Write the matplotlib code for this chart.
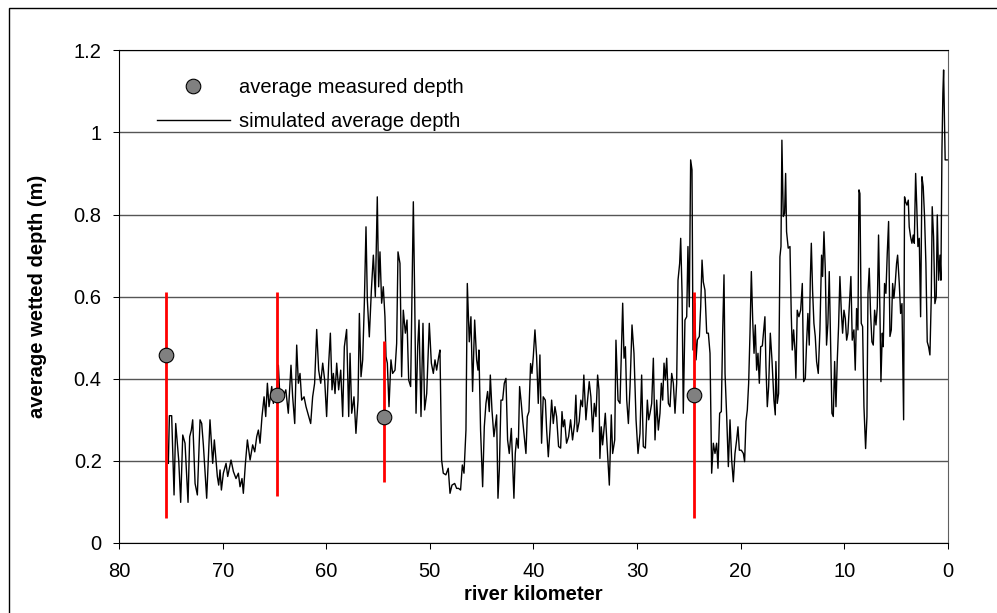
import matplotlib
matplotlib.use("Agg")
import matplotlib.pyplot as plt
from matplotlib.patches import Rectangle

plt.rcParams["font.family"] = ["Liberation Sans", "DejaVu Sans"]

# ── measured depth (mean with min / max range) ─────────────
meas_km = [75.45, 64.75, 54.45, 24.45]
meas_depth = [0.457, 0.361, 0.308, 0.360]
meas_low = [0.060, 0.115, 0.148, 0.060]
meas_high = [0.612, 0.612, 0.493, 0.611]

# ── simulated average depth ────────────────────────────────
sim_km = [
    75.24, 75.14, 74.92, 74.69, 74.53, 74.37, 74.24, 74.05, 73.85, 73.63,
    73.34, 73.18, 73.02, 72.89, 72.66, 72.44, 72.18, 72.02, 71.86, 71.54,
    71.22, 70.96, 70.80, 70.51, 70.38, 70.25, 70.12, 69.93, 69.67, 69.51,
    69.19, 68.96, 68.71, 68.48, 68.32, 68.13, 68.00, 67.80, 67.61, 67.35,
    67.10, 66.90, 66.71, 66.55, 66.39, 66.20, 66.00, 65.84, 65.68, 65.52,
    65.26, 65.10, 64.94, 64.78, 64.62, 64.46, 64.14, 63.90, 63.66, 63.40,
    63.24, 63.04, 62.85, 62.69, 62.53, 62.37, 62.14, 61.95, 61.73, 61.50,
    61.31, 61.12, 60.92, 60.73, 60.53, 60.34, 60.15, 59.96, 59.76, 59.60,
    59.44, 59.31, 59.15, 58.99, 58.80, 58.60, 58.41, 58.25, 58.03, 57.83,
    57.70, 57.54, 57.32, 57.13, 56.93, 56.80, 56.64, 56.48, 56.32, 56.16,
    56.03, 55.84, 55.64, 55.45, 55.26, 55.07, 54.94, 54.81, 54.65, 54.49,
    54.33, 54.23, 54.10, 53.94, 53.75, 53.59, 53.36, 53.20, 53.07, 52.88,
    52.72, 52.56, 52.36, 52.20, 52.04, 51.85, 51.59, 51.46, 51.33, 51.17,
    51.04, 50.85, 50.66, 50.50, 50.30, 50.05, 49.85, 49.66, 49.50, 49.34,
    49.14, 49.02, 48.86, 48.70, 48.45, 48.22, 48.05, 47.86, 47.60, 47.41,
    47.22, 47.03, 46.86, 46.70, 46.51, 46.38, 46.19, 46.03, 45.87, 45.67,
    45.48, 45.35, 45.26, 45.10, 44.90, 44.74, 44.58, 44.42, 44.26, 44.16,
    44.00, 43.81, 43.65, 43.55, 43.42, 43.29, 43.13, 42.97, 42.81, 42.65,
    42.49, 42.33, 42.13, 42.01, 41.88, 41.75, 41.62, 41.46, 41.33, 41.17,
    41.04, 40.88, 40.72, 40.59, 40.43, 40.27, 40.14, 40.01, 39.85, 39.69,
    39.53, 39.37, 39.21, 39.05, 38.85, 38.72, 38.56, 38.40, 38.24, 38.08,
    37.92, 37.76, 37.57, 37.37, 37.24, 37.12, 36.99, 36.80, 36.60, 36.41,
    36.22, 36.02, 35.90, 35.77, 35.58, 35.42, 35.26, 35.13, 34.93, 34.80,
    34.61, 34.45, 34.28, 34.12, 33.96, 33.80, 33.67, 33.58, 33.45, 33.32,
    33.19, 33.06, 32.93, 32.67, 32.48, 32.35, 32.15, 32.03, 31.83, 31.64,
    31.38, 31.25, 31.12, 30.99, 30.83, 30.67, 30.48, 30.29, 30.09, 29.90,
    29.71, 29.55, 29.39, 29.19, 29.00, 28.87, 28.74, 28.58, 28.42, 28.26,
    28.10, 27.94, 27.78, 27.65, 27.52, 27.39, 27.26, 27.13, 26.97, 26.81,
    26.65, 26.49, 26.33, 26.17, 26.04, 25.88, 25.78, 25.65, 25.53, 25.37,
    25.20, 25.08, 24.95, 24.82, 24.69, 24.59, 24.43, 24.30, 24.17, 23.98,
    23.85, 23.72, 23.60, 23.44, 23.27, 23.11, 22.95, 22.79, 22.63, 22.47,
    22.31, 22.18, 22.02, 21.86, 21.73, 21.60, 21.50, 21.34, 21.18, 21.02,
    20.86, 20.70, 20.54, 20.38, 20.25, 20.12, 19.93, 19.73, 19.61, 19.48,
    19.35, 19.22, 19.09, 18.96, 18.83, 18.70, 18.58, 18.45, 18.32, 18.19,
    18.06, 17.90, 17.65, 17.55, 17.42, 17.29, 17.13, 16.97, 16.78, 16.65,
    16.59, 16.46, 16.33, 16.20, 16.10, 16.01, 15.88, 15.75, 15.65, 15.56,
    15.40, 15.23, 15.11, 15.01, 14.88, 14.75, 14.66, 14.53, 14.37, 14.20,
    14.04, 13.91, 13.75, 13.63, 13.50, 13.37, 13.27, 13.17, 13.05, 12.92,
    12.79, 12.66, 12.50, 12.34, 12.18, 12.08, 11.95, 11.82, 11.70, 11.57,
    11.44, 11.31, 11.18, 11.05, 10.92, 10.79, 10.67, 10.54, 10.41, 10.28,
    10.15, 10.02, 9.89, 9.76, 9.64, 9.51, 9.35, 9.22, 9.06, 8.93,
    8.80, 8.67, 8.57, 8.48, 8.35, 8.22, 8.09, 7.93, 7.80, 7.70,
    7.58, 7.45, 7.32, 7.19, 7.06, 6.93, 6.80, 6.68, 6.55, 6.45,
    6.32, 6.23, 6.10, 5.97, 5.84, 5.71, 5.58, 5.45, 5.32, 5.20,
    5.07, 4.94, 4.84, 4.68, 4.55, 4.42, 4.26, 4.17, 4.07, 3.94,
    3.81, 3.72, 3.59, 3.46, 3.33, 3.23, 3.10, 2.98, 2.88, 2.75,
    2.62, 2.49, 2.37, 2.24, 2.11, 1.98, 1.85, 1.72, 1.59, 1.50,
    1.37, 1.24, 1.11, 1.01, 0.88, 0.75, 0.66, 0.56, 0.47, 0.40,
    0.25, 0.05,
]
sim_depth = [
    0.194, 0.310, 0.310, 0.117, 0.291, 0.243, 0.202, 0.099, 0.263, 0.243,
    0.099, 0.259, 0.275, 0.300, 0.145, 0.117, 0.300, 0.291, 0.239, 0.109,
    0.300, 0.194, 0.251, 0.162, 0.141, 0.178, 0.129, 0.170, 0.194, 0.162,
    0.202, 0.174, 0.157, 0.170, 0.137, 0.157, 0.121, 0.194, 0.251, 0.202,
    0.239, 0.222, 0.259, 0.275, 0.243, 0.308, 0.356, 0.308, 0.389, 0.332,
    0.381, 0.340, 0.373, 0.356, 0.433, 0.350, 0.356, 0.373, 0.316, 0.433,
    0.356, 0.291, 0.482, 0.389, 0.413, 0.348, 0.356, 0.332, 0.312, 0.291,
    0.356, 0.389, 0.520, 0.421, 0.389, 0.438, 0.397, 0.308, 0.438, 0.511,
    0.373, 0.413, 0.364, 0.438, 0.373, 0.421, 0.308, 0.478, 0.520, 0.308,
    0.462, 0.316, 0.356, 0.267, 0.348, 0.559, 0.405, 0.446, 0.584, 0.770,
    0.592, 0.502, 0.616, 0.701, 0.600, 0.843, 0.624, 0.709, 0.584, 0.624,
    0.551, 0.454, 0.438, 0.332, 0.446, 0.413, 0.421, 0.486, 0.709, 0.681,
    0.405, 0.567, 0.511, 0.543, 0.397, 0.381, 0.831, 0.600, 0.316, 0.478,
    0.543, 0.308, 0.535, 0.324, 0.364, 0.535, 0.438, 0.413, 0.446, 0.421,
    0.454, 0.470, 0.202, 0.170, 0.166, 0.182, 0.121, 0.141, 0.145, 0.133,
    0.133, 0.129, 0.190, 0.170, 0.275, 0.632, 0.490, 0.551, 0.369, 0.543,
    0.446, 0.421, 0.470, 0.275, 0.137, 0.283, 0.340, 0.369, 0.320, 0.409,
    0.324, 0.259, 0.291, 0.312, 0.109, 0.178, 0.348, 0.348, 0.389, 0.401,
    0.251, 0.218, 0.279, 0.194, 0.109, 0.218, 0.255, 0.231, 0.381, 0.340,
    0.300, 0.259, 0.218, 0.308, 0.320, 0.437, 0.413, 0.454, 0.519, 0.454,
    0.340, 0.458, 0.243, 0.356, 0.348, 0.275, 0.210, 0.275, 0.348, 0.291,
    0.332, 0.308, 0.235, 0.231, 0.320, 0.283, 0.300, 0.243, 0.259, 0.300,
    0.251, 0.291, 0.360, 0.271, 0.296, 0.348, 0.332, 0.409, 0.300, 0.340,
    0.393, 0.356, 0.271, 0.340, 0.308, 0.409, 0.373, 0.206, 0.283, 0.239,
    0.275, 0.316, 0.259, 0.141, 0.312, 0.218, 0.251, 0.494, 0.348, 0.340,
    0.584, 0.450, 0.478, 0.348, 0.291, 0.381, 0.531, 0.462, 0.300, 0.218,
    0.267, 0.409, 0.235, 0.231, 0.348, 0.300, 0.316, 0.340, 0.450, 0.251,
    0.348, 0.275, 0.316, 0.389, 0.348, 0.438, 0.397, 0.450, 0.340, 0.332,
    0.413, 0.389, 0.316, 0.389, 0.640, 0.681, 0.742, 0.608, 0.316, 0.543,
    0.551, 0.722, 0.575, 0.933, 0.909, 0.470, 0.584, 0.446, 0.495, 0.503,
    0.575, 0.689, 0.636, 0.616, 0.511, 0.511, 0.462, 0.170, 0.243, 0.218,
    0.243, 0.182, 0.316, 0.320, 0.511, 0.653, 0.413, 0.308, 0.186, 0.300,
    0.202, 0.149, 0.218, 0.251, 0.283, 0.226, 0.226, 0.218, 0.198, 0.296,
    0.324, 0.389, 0.511, 0.661, 0.543, 0.462, 0.531, 0.421, 0.462, 0.389,
    0.478, 0.480, 0.551, 0.430, 0.332, 0.381, 0.511, 0.446, 0.348, 0.312,
    0.442, 0.340, 0.364, 0.697, 0.722, 0.981, 0.795, 0.803, 0.900, 0.758,
    0.718, 0.722, 0.559, 0.470, 0.519, 0.470, 0.401, 0.567, 0.551, 0.567,
    0.632, 0.393, 0.401, 0.486, 0.559, 0.482, 0.640, 0.730, 0.616, 0.535,
    0.503, 0.442, 0.413, 0.519, 0.701, 0.649, 0.758, 0.665, 0.482, 0.535,
    0.661, 0.486, 0.316, 0.308, 0.442, 0.332, 0.442, 0.527, 0.649, 0.567,
    0.511, 0.567, 0.547, 0.494, 0.511, 0.575, 0.649, 0.494, 0.519, 0.421,
    0.571, 0.519, 0.860, 0.851, 0.535, 0.527, 0.332, 0.230, 0.308, 0.608,
    0.669, 0.559, 0.490, 0.482, 0.567, 0.531, 0.575, 0.750, 0.567, 0.393,
    0.511, 0.478, 0.632, 0.608, 0.705, 0.783, 0.503, 0.519, 0.632, 0.596,
    0.632, 0.681, 0.701, 0.632, 0.559, 0.583, 0.300, 0.843, 0.831, 0.823,
    0.835, 0.770, 0.746, 0.730, 0.750, 0.730, 0.900, 0.811, 0.722, 0.742,
    0.551, 0.892, 0.868, 0.795, 0.681, 0.490, 0.478, 0.458, 0.600, 0.819,
    0.746, 0.583, 0.600, 0.799, 0.640, 0.701, 0.640, 0.957, 1.095, 1.152,
    0.933, 0.933,
]

x_ticks = [80, 70, 60, 50, 40, 30, 20, 10, 0]
y_ticks = [0, 0.2, 0.4, 0.6, 0.8, 1.0, 1.2]
y_tick_labels = ["0", "0.2", "0.4", "0.6", "0.8", "1", "1.2"]

fig = plt.figure(figsize=(9.97, 6.13), dpi=100)
fig.patch.set_facecolor("white")
ax = fig.add_axes([0.1194, 0.1142, 0.8312, 0.8038])

# gridlines (horizontal only)
ax.set_axisbelow(True)
ax.yaxis.grid(True, color="#555555", linewidth=1.0)

# range bars for the measurements
ax.vlines(meas_km, meas_low, meas_high, color="#FF0000", linewidth=2.0, zorder=3)

# simulated line
ax.plot(sim_km, sim_depth, color="black", linewidth=1.0, zorder=2,
        label="simulated average depth")

# measured points
ax.plot(meas_km, meas_depth, linestyle="none", marker="o", markersize=10.5,
        markerfacecolor="#808080", markeredgecolor="black",
        markeredgewidth=0.8, zorder=4, label="average measured depth")

ax.set_xlim(80, 0)
ax.set_ylim(0, 1.2)
ax.set_xticks(x_ticks)
ax.set_xticklabels([str(v) for v in x_ticks])
ax.set_yticks(y_ticks)
ax.set_yticklabels(y_tick_labels)
ax.tick_params(direction="out", length=4.5, width=0.75, labelsize=14.5,
               colors="black")
ax.tick_params(axis="y", pad=8)
ax.tick_params(axis="x", pad=9)

for side in ["left", "bottom", "top"]:
    ax.spines[side].set_color("black")
    ax.spines[side].set_linewidth(0.8)
ax.spines["right"].set_color("#606060")
ax.spines["right"].set_linewidth(0.8)

ax.set_xlabel("river kilometer", fontsize=14.5, fontweight="bold", labelpad=3)
ax.set_ylabel("average wetted depth (m)", fontsize=14.5, fontweight="bold",
              labelpad=19)

handles, labels = ax.get_legend_handles_labels()
ax.legend(handles[::-1], labels[::-1], loc="upper left",
          bbox_to_anchor=(0.046, 0.944), frameon=False, fontsize=14.5,
          handlelength=3.6, handletextpad=0.45, labelspacing=0.75,
          borderpad=0, borderaxespad=0, numpoints=1)

# outer frame of the picture
fig.patches.append(Rectangle((0.009, -0.05), 1.2, 0.987 + 0.05,
                             transform=fig.transFigure, fill=False,
                             edgecolor="black", linewidth=1.0))

fig.savefig("out.png", dpi=100)
